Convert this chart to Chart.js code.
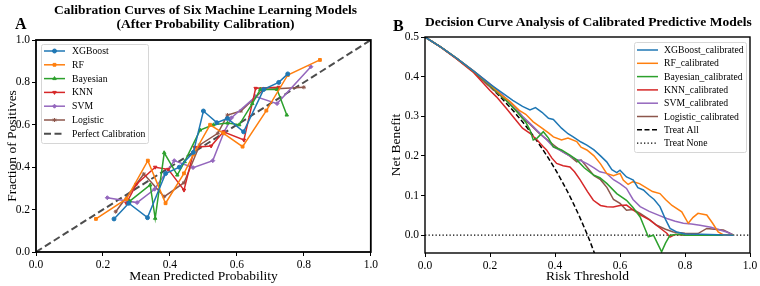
<!DOCTYPE html>
<html>
<head>
<meta charset="utf-8">
<script src="https://cdn.jsdelivr.net/npm/chart.js@4.4.1/dist/chart.umd.min.js"></script>
<style>
  html, body { margin: 0; padding: 0; background: #fff; }
  #wrap { position: relative; width: 760px; height: 286px; font-family: "Liberation Serif", "Times New Roman", serif; color: #000; }
  canvas { position: absolute; top: 0; }
  .ttl { position: absolute; font-weight: bold; font-size: 13.5px; line-height: 14px; text-align: center; white-space: nowrap; }
  .lbl { position: absolute; font-weight: bold; font-size: 16px; line-height: 16px; }
</style>
</head>
<body>
<div id="wrap">
  <canvas id="calib" width="380" height="286" style="left:0"></canvas>
  <canvas id="dca" width="380" height="286" style="left:380px"></canvas>
  <div class="ttl" style="left:36px;width:339px;top:3px">Calibration Curves of Six Machine Learning Models<br>(After Probability Calibration)</div>
  <div class="ttl" style="left:425px;width:325px;top:15px">Decision Curve Analysis of Calibrated Predictive Models</div>
  <div class="lbl" style="left:15px;top:16px">A</div>
  <div class="lbl" style="left:393px;top:18px">B</div>
</div>
<script>
// ---- data ----
const unitTicks = [0, 0.2, 0.4, 0.6, 0.8, 1.0];
const dcaYTicks = [0, 0.1, 0.2, 0.3, 0.4, 0.5];

const modelNames = ["XGBoost", "RF", "Bayesian", "KNN", "SVM", "Logistic"];
const modelColors = ["#1f77b4", "#ff7f0e", "#2ca02c", "#d62728", "#9467bd", "#8c564b"];

// calibration curves: [mean predicted, fraction of positives]
const xgbCalib = [[0.233,0.156],[0.277,0.23],[0.333,0.162],[0.387,0.37],[0.428,0.40],[0.47,0.47],[0.50,0.665],[0.54,0.61],[0.572,0.63],[0.62,0.567],[0.68,0.767],[0.725,0.80],[0.752,0.84]];
const rfCalib = [[0.179,0.156],[0.27,0.25],[0.334,0.431],[0.387,0.23],[0.442,0.371],[0.47,0.46],[0.52,0.6],[0.56,0.56],[0.617,0.497],[0.688,0.667],[0.752,0.835],[0.848,0.906]];
const bayesCalib = [[0.28,0.24],[0.341,0.316],[0.356,0.159],[0.383,0.468],[0.422,0.363],[0.444,0.426],[0.49,0.575],[0.53,0.6],[0.572,0.608],[0.607,0.60],[0.646,0.70],[0.67,0.767],[0.72,0.767],[0.749,0.646]];
const knnCalib = [[0.27,0.23],[0.30,0.32],[0.356,0.40],[0.395,0.39],[0.442,0.292],[0.474,0.494],[0.523,0.50],[0.56,0.567],[0.621,0.528],[0.656,0.772],[0.725,0.777]];
const svmCalib = [[0.213,0.256],[0.302,0.233],[0.354,0.296],[0.413,0.431],[0.469,0.398],[0.528,0.431],[0.562,0.567],[0.584,0.633],[0.656,0.733],[0.72,0.70],[0.821,0.874]];
const logCalib = [[0.238,0.19],[0.322,0.368],[0.383,0.261],[0.442,0.327],[0.489,0.505],[0.543,0.56],[0.572,0.646],[0.612,0.665],[0.68,0.767],[0.80,0.777]];
const perfectLine = [[0, 0], [1, 1]];

// decision curves: [threshold, net benefit]
const xgbDca = [[0,0.5],[0.05,0.474],[0.1,0.445],[0.15,0.414],[0.2,0.381],[0.24,0.358],[0.27,0.34],[0.3,0.325],[0.323,0.316],[0.34,0.322],[0.36,0.31],[0.38,0.295],[0.395,0.292],[0.42,0.27],[0.44,0.256],[0.456,0.248],[0.48,0.235],[0.498,0.227],[0.52,0.215],[0.54,0.2],[0.559,0.185],[0.575,0.165],[0.59,0.158],[0.6,0.164],[0.62,0.147],[0.641,0.139],[0.655,0.12],[0.672,0.114],[0.69,0.1],[0.705,0.09],[0.723,0.072],[0.74,0.04],[0.754,0.017],[0.774,0.008],[0.8,0.003],[0.85,0.002],[0.9,0.001],[0.95,0]];
const rfDca = [[0,0.5],[0.05,0.474],[0.1,0.445],[0.15,0.414],[0.2,0.38],[0.24,0.35],[0.262,0.337],[0.29,0.315],[0.31,0.305],[0.333,0.286],[0.36,0.27],[0.38,0.258],[0.395,0.248],[0.42,0.24],[0.44,0.245],[0.467,0.236],[0.48,0.222],[0.498,0.215],[0.52,0.2],[0.54,0.18],[0.559,0.156],[0.58,0.15],[0.6,0.156],[0.61,0.139],[0.625,0.128],[0.64,0.135],[0.66,0.13],[0.68,0.12],[0.7,0.11],[0.723,0.105],[0.74,0.09],[0.76,0.075],[0.79,0.059],[0.81,0.03],[0.825,0.045],[0.84,0.055],[0.867,0.051],[0.885,0.03],[0.902,0.008],[0.92,0],[0.95,0]];
const bayesDca = [[0,0.5],[0.05,0.474],[0.1,0.445],[0.15,0.413],[0.2,0.378],[0.25,0.34],[0.29,0.305],[0.31,0.285],[0.323,0.265],[0.333,0.24],[0.345,0.245],[0.364,0.261],[0.38,0.245],[0.395,0.223],[0.42,0.215],[0.446,0.202],[0.467,0.19],[0.49,0.17],[0.518,0.152],[0.538,0.145],[0.56,0.13],[0.59,0.105],[0.62,0.088],[0.64,0.07],[0.662,0.046],[0.675,0.02],[0.687,-0.004],[0.703,0],[0.715,-0.02],[0.728,-0.042],[0.74,-0.02],[0.754,0],[0.78,0.002],[0.8,0],[0.85,0],[0.95,0]];
const knnDca = [[0,0.5],[0.05,0.473],[0.1,0.443],[0.15,0.41],[0.2,0.365],[0.22,0.349],[0.25,0.32],[0.28,0.29],[0.3,0.27],[0.323,0.257],[0.345,0.24],[0.364,0.223],[0.374,0.215],[0.39,0.195],[0.405,0.181],[0.425,0.175],[0.446,0.172],[0.46,0.16],[0.477,0.14],[0.5,0.11],[0.518,0.088],[0.54,0.075],[0.56,0.072],[0.579,0.071],[0.6,0.075],[0.62,0.076],[0.641,0.063],[0.665,0.05],[0.692,0.038],[0.72,0.02],[0.744,0.005],[0.754,-0.005],[0.77,0.002],[0.8,0],[0.85,0],[0.95,0]];
const svmDca = [[0,0.5],[0.05,0.474],[0.1,0.445],[0.15,0.414],[0.2,0.382],[0.25,0.345],[0.28,0.32],[0.3,0.3],[0.323,0.282],[0.35,0.26],[0.375,0.24],[0.395,0.223],[0.42,0.212],[0.445,0.2],[0.467,0.19],[0.477,0.189],[0.5,0.18],[0.52,0.17],[0.538,0.16],[0.559,0.156],[0.58,0.14],[0.6,0.13],[0.62,0.118],[0.64,0.09],[0.662,0.072],[0.69,0.06],[0.72,0.05],[0.744,0.042],[0.77,0.035],[0.795,0.03],[0.82,0.028],[0.846,0.025],[0.88,0.02],[0.9,0.015],[0.928,0.008],[0.95,0]];
const logDca = [[0,0.5],[0.05,0.474],[0.1,0.444],[0.15,0.412],[0.2,0.374],[0.25,0.34],[0.28,0.315],[0.3,0.295],[0.323,0.28],[0.35,0.258],[0.38,0.238],[0.4,0.225],[0.42,0.212],[0.445,0.2],[0.467,0.185],[0.48,0.19],[0.5,0.17],[0.52,0.15],[0.54,0.14],[0.56,0.12],[0.58,0.09],[0.6,0.08],[0.62,0.063],[0.64,0.065],[0.662,0.055],[0.69,0.04],[0.713,0.025],[0.74,0.015],[0.764,0.008],[0.8,0.005],[0.84,0.004],[0.867,0.017],[0.89,0.015],[0.918,0.013],[0.95,0]];
const treatAll = [[0,0.5],[0.05,0.474],[0.1,0.444],[0.15,0.412],[0.2,0.375],[0.25,0.333],[0.3,0.286],[0.35,0.231],[0.4,0.167],[0.45,0.091],[0.5,0],[0.525,-0.053]];
const treatNone = [[0, 0], [1, 0]];

// ---- setup ----
const FONT = '"Liberation Serif", "Times New Roman", serif';
Chart.defaults.font.family = FONT;
Chart.defaults.color = "#000";

const toXY = (arr) => arr.map(([x, y]) => ({ x, y }));

// black box around the plot area (all four spines)
const framePlugin = {
  id: "frame",
  afterDatasetsDraw(chart, args, opts) {
    const { left, top, right, bottom } = chart.chartArea;
    const ctx = chart.ctx;
    ctx.save();
    ctx.strokeStyle = "#000";
    ctx.lineWidth = opts.width || 1.5;
    ctx.strokeRect(left, top, right - left, bottom - top);
    ctx.restore();
  },
};

// matplotlib-style legend box inside the plot
const boxLegendPlugin = {
  id: "boxLegend",
  afterDraw(chart, args, o) {
    const ctx = chart.ctx;
    ctx.save();
    ctx.fillStyle = "rgba(255,255,255,0.85)";
    ctx.strokeStyle = "#d6d6d6";
    ctx.lineWidth = 1;
    ctx.beginPath();
    ctx.roundRect(o.x + 0.5, o.y + 0.5, o.w, o.h, 2);
    ctx.fill();
    ctx.stroke();
    ctx.font = `${o.fontSize}px ${FONT}`;
    ctx.textBaseline = "middle";
    chart.data.datasets.forEach((ds, i) => {
      const y = o.y + o.first + i * o.rowH;
      ctx.strokeStyle = ds.borderColor;
      ctx.lineWidth = ds.borderWidth;
      ctx.setLineDash(ds.borderDash || []);
      ctx.beginPath();
      ctx.moveTo(o.x + o.s0, y);
      ctx.lineTo(o.x + o.s1, y);
      ctx.stroke();
      ctx.setLineDash([]);
      if (ds.pointRadius > 0) {
        ctx.fillStyle = ds.backgroundColor;
        ctx.lineWidth = 1;
        Chart.helpers.drawPoint(ctx, {
          pointStyle: ds.pointStyle, rotation: ds.pointRotation || 0,
          radius: ds.pointRadius, borderWidth: 1,
        }, o.x + (o.s0 + o.s1) / 2, y);
      }
      ctx.fillStyle = "#000";
      ctx.fillText(ds.label, o.x + o.tx, y + 0.5);
    });
    ctx.restore();
  },
};

function axis(min, max, tickVals, title, titlePad, fitSize, isX) {
  return {
    type: "linear",
    min, max,
    afterBuildTicks: (s) => { s.ticks = tickVals.map((v) => ({ value: v })); },
    afterFit: (s) => { if (isX) s.height = fitSize; else s.width = fitSize; },
    ticks: { callback: (v) => v.toFixed(1), font: { size: 11.5 }, color: "#000", padding: 2, maxRotation: 0 },
    grid: { drawOnChartArea: false, drawTicks: true, tickLength: 4, tickColor: "#000", tickWidth: 1 },
    border: { display: false },
    title: { display: true, text: title, font: { size: 13.5 }, color: "#000", padding: titlePad },
  };
}

// ---- A: calibration curves ----
const calibSets = [xgbCalib, rfCalib, bayesCalib, knnCalib, svmCalib, logCalib];
const markers = [
  { style: "circle", rot: 0 }, { style: "rect", rot: 0 }, { style: "triangle", rot: 0 },
  { style: "triangle", rot: 180 }, { style: "rectRot", rot: 0 }, { style: "star", rot: 0 },
];

const calibDatasets = calibSets.map((arr, i) => ({
  label: modelNames[i],
  data: toXY(arr),
  borderColor: modelColors[i],
  backgroundColor: modelColors[i],
  borderWidth: 1.5,
  pointStyle: markers[i].style,
  pointRotation: markers[i].rot,
  pointRadius: 2,
  pointBorderWidth: 1,
}));
calibDatasets.push({
  label: "Perfect Calibration",
  data: toXY(perfectLine),
  borderColor: "#4d4d4d",
  backgroundColor: "#4d4d4d",
  borderWidth: 2,
  borderDash: [7, 3.5],
  pointRadius: 0,
});

new Chart(document.getElementById("calib"), {
  type: "line",
  data: { datasets: calibDatasets },
  options: {
    responsive: false,
    animation: false,
    events: [],
    parsing: false,
    layout: { padding: { top: 40, right: 5, left: 0, bottom: 0 } },
    scales: {
      x: axis(0, 1, unitTicks, "Mean Predicted Probability", { top: 0, bottom: 1 }, 34, true),
      y: axis(0, 1, unitTicks, "Fraction of Positives", { top: 4, bottom: 0 }, 36, false),
    },
    plugins: {
      legend: { display: false },
      tooltip: { enabled: false },
      frame: { width: 1.8 },
      boxLegend: { x: 41, y: 44, w: 107, h: 99, first: 7, rowH: 13.8, s0: 3, s1: 24, tx: 31, fontSize: 9.7 },
    },
  },
  plugins: [framePlugin, boxLegendPlugin],
});

// ---- B: decision curves ----
const dcaSets = [xgbDca, rfDca, bayesDca, knnDca, svmDca, logDca];
const dcaDatasets = dcaSets.map((arr, i) => ({
  label: modelNames[i] + "_calibrated",
  data: toXY(arr),
  borderColor: modelColors[i],
  backgroundColor: modelColors[i],
  borderWidth: 1.5,
  pointRadius: 0,
}));
dcaDatasets.push({
  label: "Treat All",
  data: toXY(treatAll),
  borderColor: "#000",
  borderWidth: 1.5,
  borderDash: [5, 2.5],
  pointRadius: 0,
  cubicInterpolationMode: "monotone",
});
dcaDatasets.push({
  label: "Treat None",
  data: toXY(treatNone),
  borderColor: "#000",
  borderWidth: 1.3,
  borderDash: [1.3, 2.2],
  pointRadius: 0,
});

new Chart(document.getElementById("dca"), {
  type: "line",
  data: { datasets: dcaDatasets },
  options: {
    responsive: false,
    animation: false,
    events: [],
    parsing: false,
    layout: { padding: { top: 37, right: 10, left: 0, bottom: 0 } },
    scales: {
      x: axis(0, 1, unitTicks, "Risk Threshold", { top: 0, bottom: 1 }, 33, true),
      y: axis(-0.045, 0.5, dcaYTicks, "Net Benefit", { top: 8, bottom: 0 }, 45, false),
    },
    plugins: {
      legend: { display: false },
      tooltip: { enabled: false },
      frame: { width: 1.4 },
      boxLegend: { x: 254, y: 42, w: 112, h: 110, first: 8, rowH: 13.3, s0: 3, s1: 24, tx: 30, fontSize: 9.7 },
    },
  },
  plugins: [framePlugin, boxLegendPlugin],
});
</script>
</body>
</html>
